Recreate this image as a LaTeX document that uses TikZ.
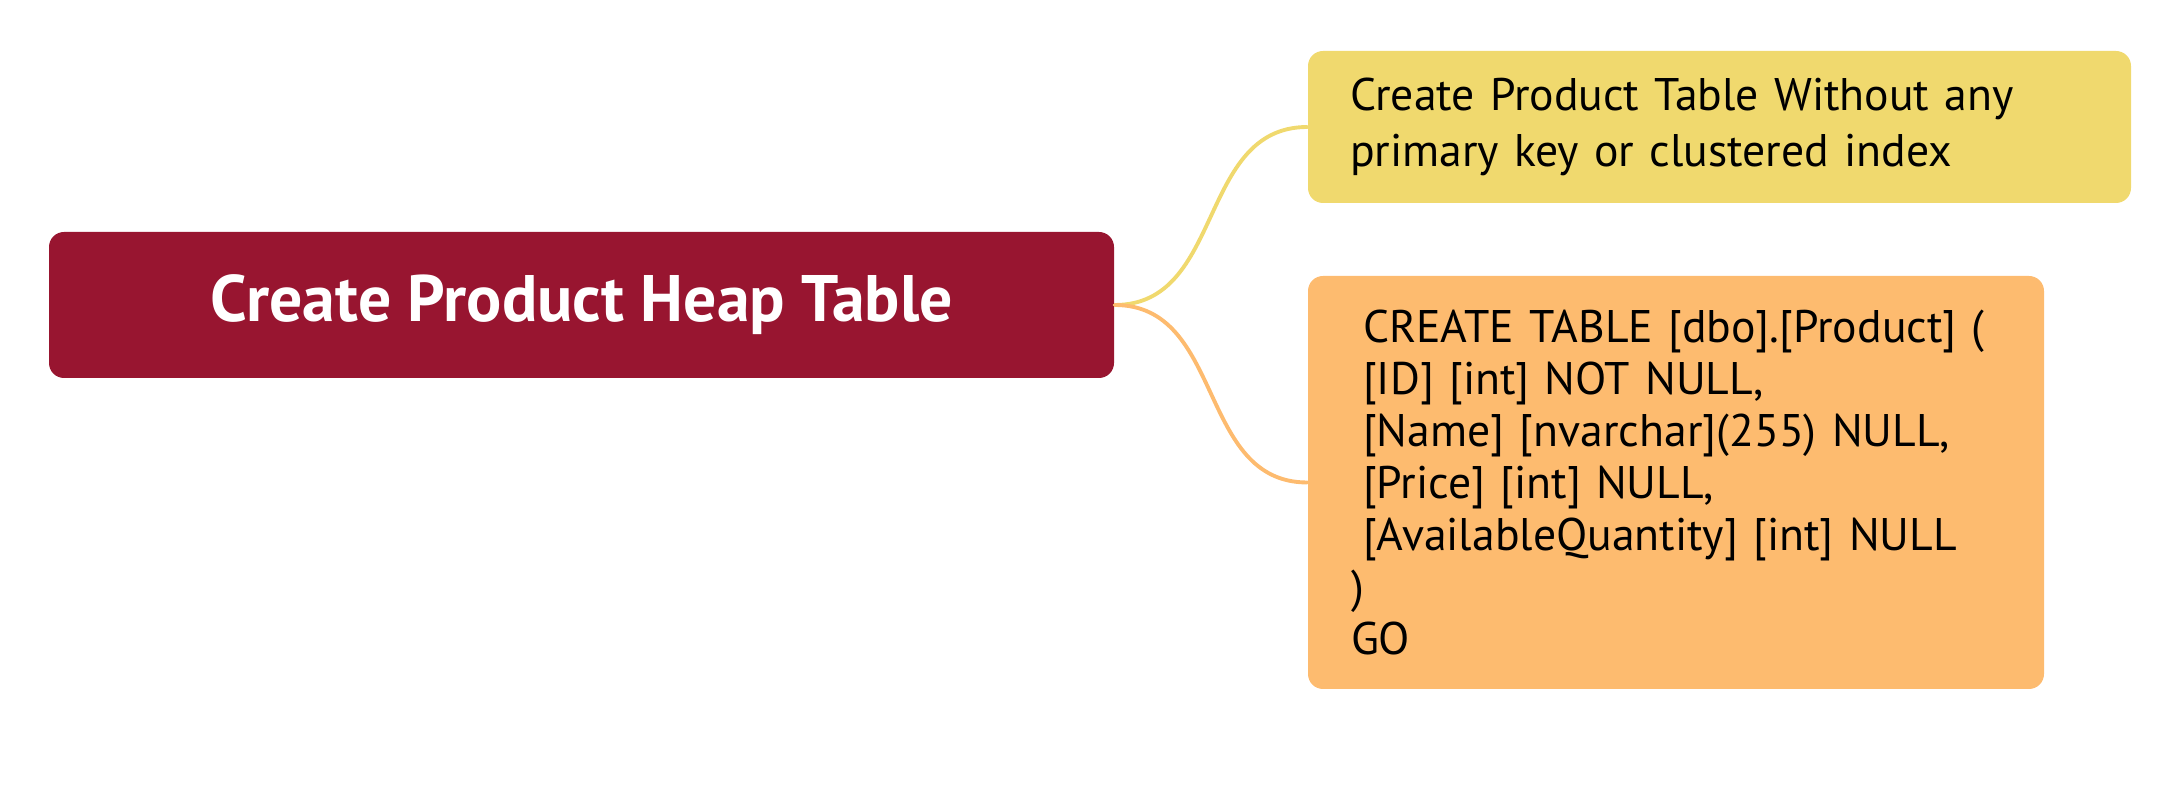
\documentclass[tikz,border=0pt]{standalone}
\usepackage{fontspec}
\setmainfont{PT Sans}
\definecolor{rootred}{RGB}{152,21,48}
\definecolor{noteyellow}{RGB}{240,217,110}
\definecolor{codeorange}{RGB}{253,187,111}
\tikzset{
  topicbox/.style={rounded corners=0.15cm, inner ysep=0pt, align=left, anchor=center},
  rootbox/.style={rounded corners=0.15cm, fill=rootred, text=white, align=center,
    minimum width=10.65cm, minimum height=1.46cm, inner sep=0pt,
    font=\bfseries\fontsize{18.7}{22}\selectfont},
  bodytext/.style={font=\fontsize{13}{14.8}\selectfont},
  notetext/.style={font=\fontsize{13}{15.8}\selectfont},
  link/.style={line width=1.1pt, line cap=round}
}
\begin{document}
\begin{tikzpicture}
\useasboundingbox (0,0) rectangle (21.78,8.08);
\node[rootbox] (root) at (5.815,5.03) {Create Product Heap Table};
\node[topicbox, notetext, fill=noteyellow, minimum width=8.23cm, minimum height=1.52cm,
      text width=7.39cm, inner xsep=0.42cm] (note) at (17.195,6.81)
  {Create Product Table Without any\\primary key or clustered index};
\node[topicbox, bodytext, fill=codeorange, minimum width=7.36cm, minimum height=4.13cm,
      text width=6.5cm, inner xsep=0.43cm] (code) at (16.76,3.255)
  {\hspace*{0.12cm}CREATE TABLE [dbo].[Product] (\\
   \hspace*{0.12cm}[ID] [int] NOT NULL,\\
   \hspace*{0.12cm}[Name] [nvarchar](255) NULL,\\
   \hspace*{0.12cm}[Price] [int] NULL,\\
   \hspace*{0.12cm}[AvailableQuantity] [int] NULL\\
   )\\
   GO};
\draw[link, draw=noteyellow] (root.east) .. controls +(1.1,0) and +(-1.1,0) .. (note.west);
\draw[link, draw=codeorange] (root.east) .. controls +(1.1,0) and +(-1.1,0) .. (code.west);
\end{tikzpicture}
\end{document}
